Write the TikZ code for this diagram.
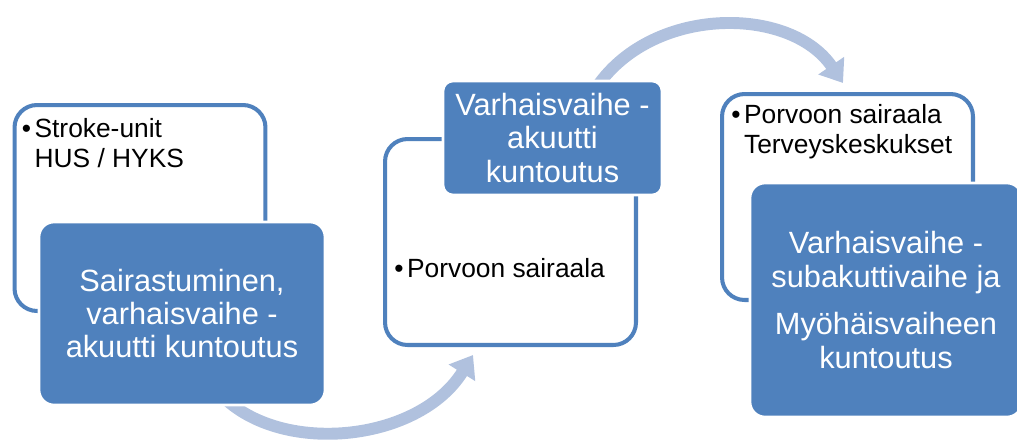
\documentclass[tikz,border=0pt]{standalone}
\usepackage{fontspec}
\setmainfont{Liberation Sans}
\usetikzlibrary{arrows.meta,backgrounds}
\definecolor{StageBlue}{HTML}{4F81BD}
\definecolor{FlowBlue}{HTML}{B0C1DE}

\begin{document}
\begin{tikzpicture}[x=0.02cm,y=-0.02cm,
  stagebox/.style={draw=white,line width=1.5pt,fill=StageBlue,rounded corners=0.3cm,
    text=white,align=center,font=\fontsize{17.5}{19}\selectfont},
  placebox/.style={draw=StageBlue,line width=2.3pt,fill=white,rounded corners=0.45cm,
    minimum width=5.02cm,minimum height=4.12cm},
  placetext/.style={anchor=north west,inner sep=0pt,align=left,font=\fontsize{15}{17}\selectfont},
  flow/.style={draw=FlowBlue,line width=6.8pt,-{Triangle[width=0.6cm,length=0.42cm]}}]
  \useasboundingbox (0,0) rectangle (1017,443);

  % places (outlined boxes)
  \node[placebox] (stage1box) at (140,208) {};
  \node[placebox] (stage2box) at (510.5,242) {};
  \node[placebox] (stage3box) at (847.5,197) {};

  \node[placetext] (stage1place) at ([xshift=0.18cm,yshift=-0.3cm]stage1box.north west)
    {\textbullet\hspace{2pt}Stroke-unit\\\hphantom{\textbullet\hspace{2pt}}HUS / HYKS};
  \node[placetext] (stage2place) at ([xshift=0.22cm,yshift=-2.42cm]stage2box.north west)
    {\textbullet\hspace{2pt}Porvoon sairaala};
  \node[placetext] (stage3place) at ([xshift=0.22cm,yshift=-0.24cm]stage3box.north west)
    {\textbullet\hspace{2pt}Porvoon sairaala\\\hphantom{\textbullet\hspace{2pt}}Terveyskeskukset};

  % stages (filled boxes)
  \node[stagebox,minimum width=5.72cm,minimum height=3.66cm] (stage1) at (182,313.5)
    {Sairastuminen,\\varhaisvaihe -\\akuutti kuntoutus};
  \node[stagebox,rounded corners=0.2cm,minimum width=4.38cm,minimum height=2.28cm] (stage2) at (552.5,138)
    {Varhaisvaihe -\\akuutti\\kuntoutus};
  \node[stagebox,minimum width=5.44cm,minimum height=4.68cm] (stage3) at (886,300)
    {Varhaisvaihe -\\subakuttivaihe ja\\[0.28cm]Myöhäisvaiheen\\kuntoutus};

  % flow arrows
  \begin{scope}[on background layer]
    \draw[flow] ([xshift=0.92cm,yshift=0.1cm]stage1.south)
      .. controls (290,455) and (420,440) .. ([xshift=-0.75cm,yshift=-0.16cm]stage2box.south);
    \draw[flow] ([xshift=0.85cm,yshift=-0.2cm]stage2.north)
      .. controls (650,5) and (790,5) .. ([xshift=-0.09cm,yshift=0.18cm]stage3box.north);
  \end{scope}
\end{tikzpicture}
\end{document}
